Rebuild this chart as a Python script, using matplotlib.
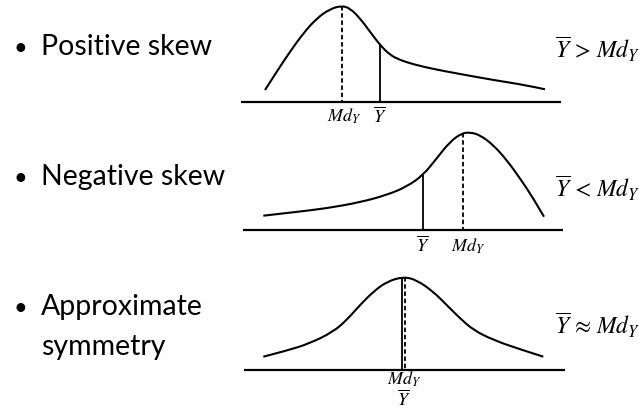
import matplotlib
matplotlib.use("Agg")
import matplotlib.pyplot as plt
from matplotlib.path import Path
from matplotlib.patches import PathPatch

# ── Diagram coordinates (pixels, y grows downwards) ──
bullet_lines = ["Positive skew", "Negative skew", "Approximate", "symmetry"]
line_y = [55, 185, 315, 355]
bullet_y = [55, 185, 315]

# positive skew curve
pos_x = [265, 276.7, 290, 303.3, 316.7, 330, 341.7, 350, 360, 370,
         380, 390, 400, 413.3, 433.3, 460, 493.3, 526.7, 545]
pos_y = [90, 71.7, 51.7, 33.3, 18.3, 9, 5.7, 8.3, 18.3, 31.7,
         45, 55, 60, 64.3, 69, 74, 80, 85.3, 89.3]

# negative skew curve
neg_x = [263.3, 293.3, 326.7, 360, 386.7, 406.7, 423.3, 436.7, 450,
         461.7, 470, 480, 493.3, 506.7, 520, 533.3, 544]
neg_y = [215.7, 212.3, 208.3, 202.3, 195, 186.7, 175, 158.3, 141.7,
         133.3, 132.3, 135, 145, 160, 178.3, 198.3, 216.7]

# symmetric curve
sym_x = [263.3, 286.7, 310, 333.3, 346.7, 360, 373.3, 386.7, 403.3,
         416.7, 433.3, 446.7, 460, 473.3, 493.3, 520, 543.3]
sym_y = [356.7, 350.7, 343.3, 331.7, 320, 305, 291.7, 281.7, 276.7,
         280, 291.7, 305, 318.3, 330, 340, 349.3, 356.7]

curves = [(pos_x, pos_y), (neg_x, neg_y), (sym_x, sym_y)]
base_y = [101.7, 230, 370]
base_x0 = [241, 243, 244]
base_x1 = [561, 563, 565]

# median (dashed) and mean (solid) markers: x, top of line
median_x = [342, 463, 405]
median_top = [6, 133, 277]
mean_x = [380, 422.7, 402.3]
mean_top = [44, 175, 277]

# relation labels on the right
relations = [r"$\overline{Y}$ > $Md_Y$", r"$\overline{Y}$ < $Md_Y$",
             r"$\overline{Y}$ ≈ $Md_Y$"]
relation_y = [59, 198, 335]

plt.rcParams['mathtext.fontset'] = 'stix'
plt.rcParams['font.family'] = ['Lato', 'DejaVu Sans']

fig = plt.figure(figsize=(6.39, 4.19), dpi=100)
fig.patch.set_facecolor('white')
ax = fig.add_axes([0, 0, 1, 1])
ax.set_xlim(0, 639)
ax.set_ylim(419, 0)
ax.axis('off')


def smooth_path(xs, ys):
    # quadratic segments through midpoints, read points act as controls
    pts = list(zip(xs, ys))
    verts = [pts[0]]
    codes = [Path.MOVETO]
    for k in range(1, len(pts) - 1):
        mid = ((pts[k][0] + pts[k + 1][0]) / 2, (pts[k][1] + pts[k + 1][1]) / 2)
        if k == len(pts) - 2:
            mid = pts[-1]
        verts += [pts[k], mid]
        codes += [Path.CURVE3, Path.CURVE3]
    return Path(verts, codes)


# ── Bullet text ──
for y in bullet_y:
    ax.text(20.5, y, "•", fontsize=17, va='baseline', ha='center', color='black')
for label, y in zip(bullet_lines, line_y):
    ax.text(41, y, label, fontsize=20.5, va='baseline', ha='left', color='black')

# ── Curves, baselines and markers ──
for i, (cx, cy) in enumerate(curves):
    ax.add_patch(PathPatch(smooth_path(cx, cy), fill=False, edgecolor='black',
                           lw=1.5, capstyle='butt'))
    ax.plot([base_x0[i], base_x1[i]], [base_y[i], base_y[i]],
            color='black', lw=1.6, solid_capstyle='butt')
    ax.plot([mean_x[i], mean_x[i]], [mean_top[i], base_y[i]],
            color='black', lw=1.3, solid_capstyle='butt')
    ax.plot([median_x[i], median_x[i]], [median_top[i], base_y[i]],
            color='black', lw=1.3, dashes=(2.5, 1.5))
    ax.text(555, relation_y[i], relations[i], fontsize=17,
            va='baseline', ha='left', family='STIXGeneral')

# ── Axis labels below each baseline ──
mathkw = dict(fontsize=13, va='baseline', ha='center', family='STIXGeneral')
ax.text(344, 122, r"$Md_Y$", **mathkw)
ax.text(380, 122, r"$\overline{Y}$", **mathkw)
ax.text(422.7, 251.7, r"$\overline{Y}$", **mathkw)
ax.text(468, 251.7, r"$Md_Y$", **mathkw)
ax.text(404, 385, r"$Md_Y$", **mathkw)
ax.text(404, 405, r"$\overline{Y}$", **mathkw)

fig.savefig("out.png", dpi=100, facecolor='white')
